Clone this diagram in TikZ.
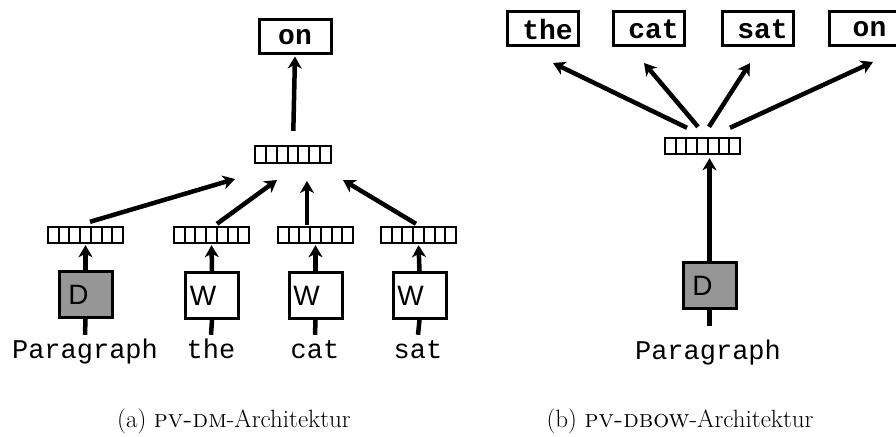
\documentclass[tikz,border=0pt]{standalone}
\usepackage{fontspec}
\setmonofont{Liberation Mono}
\setsansfont{Liberation Sans}
\usetikzlibrary{arrows.meta, calc}
\definecolor{boxgray}{RGB}{150,150,150}

\begin{document}
\begin{tikzpicture}[x=1pt, y=-1pt,
    word/.style={draw, line width=3pt, minimum width=72pt, minimum height=34pt,
                 inner sep=0pt, font=\fontsize{28}{28}\ttfamily\bfseries},
    outword/.style={word, minimum width=71pt,
                    execute at begin node={\hspace*{10pt}}},
    vec/.style={draw, line width=2.4pt, minimum width=75pt, minimum height=16pt,
                inner sep=0pt,
                path picture={\foreach \k in {1,...,6}
                  \draw[line width=2pt]
                    ($(path picture bounding box.north west)!\k/7!(path picture bounding box.north east)$) --
                    ($(path picture bounding box.south west)!\k/7!(path picture bounding box.south east)$);}},
    emb/.style={draw, line width=3pt, minimum width=53pt, minimum height=46pt,
                inner sep=0pt, font=\fontsize{28}{28}\sffamily},
    lbl/.style={font=\fontsize{27}{27}\ttfamily, anchor=base, text height=19pt,
                text depth=6pt, inner sep=4pt},
    capt/.style={font=\fontsize{25}{28}\selectfont},
    arr/.style={-{Stealth[length=12pt, width=14pt, inset=3.5pt]}, line width=4.5pt},
    stem/.style={line width=4.5pt}
  ]
  \useasboundingbox (0,0) rectangle (896,436);
  \clip (0,0) rectangle (896,436);

  % (a) PV-DM
  \node[word] (on1) at (295,37) {on};
  \node[vec, minimum width=76pt, minimum height=17pt] (h1) at (293,154.5) {};

  \node[vec] (vp)   at (85.5,235)  {};
  \node[vec] (vthe) at (211.5,235) {};
  \node[vec] (vcat) at (315.5,235) {};
  \node[vec] (vsat) at (418.5,235) {};

  \node[emb, fill=boxgray] (dp) at (85.5,294.5) {D\hspace*{14pt}};
  \node[emb] (wthe) at (212,295.5)   {W\hspace*{18pt}};
  \node[emb] (wcat) at (315.5,295.5) {W\hspace*{18pt}};
  \node[emb] (wsat) at (419.5,295.5) {W\hspace*{18pt}};

  \node[lbl] (lp)   at (85,358)  {Paragraph};
  \node[lbl] (lthe) at (211,358) {the};
  \node[lbl] (lcat) at (315,358) {cat};
  \node[lbl] (lsat) at (418,358) {sat};

  \coordinate (in1) at (235,179);
  \coordinate (in2) at (277,180);
  \coordinate (in3) at (307,181);
  \coordinate (in4) at (343,180);

  \draw[arr, shorten <=14pt, shorten >=1pt] (h1.north) -- (on1.south);
  \draw[arr] ([shift={(4.5,-4)}]vp.north)    -- (in1);
  \draw[arr] ([shift={(5.5,-2)}]vthe.north)  -- (in2);
  \draw[arr] ([shift={(-8.5,-1)}]vcat.north) -- (in3);
  \draw[arr] ([shift={(-2.5,-2)}]vsat.north) -- (in4);

  \foreach \b/\v/\l in {dp/vp/lp, wthe/vthe/lthe, wcat/vcat/lcat, wsat/vsat/lsat}{
    \draw[arr, shorten >=1pt] (\b.north) -- (\v.south);
    \draw[stem] (\b.south) -- (\l.north);
  }

  % (b) PV-DBOW
  \node[outword] (othe) at (542.5,29) {the};
  \node[outword] (ocat) at (648.5,29) {cat};
  \node[outword] (osat) at (757.5,29) {sat};
  \node[outword] (oon)  at (864.5,29) {on};

  \node[vec] (h2) at (702.5,146) {};
  \node[emb, fill=boxgray] (dr) at (709.5,285.5) {D\hspace*{14pt}};
  \node[lbl] (lr) at (708,359) {Paragraph};

  \coordinate (out1) at (553,63);
  \coordinate (out2) at (644,63);
  \coordinate (out3) at (750,63);
  \coordinate (out4) at (873,62);

  \draw[arr] ([shift={(-15.5,-9)}]h2.north) -- (out1);
  \draw[arr] ([shift={(-4.5,-10)}]h2.north) -- (out2);
  \draw[arr] ([shift={(6.5,-10)}]h2.north)  -- (out3);
  \draw[arr] ([shift={(27.5,-9)}]h2.north)  -- (out4);

  \draw[arr, shorten >=3pt] (dr.north) -- (dr.north |- h2.south);
  \draw[stem, shorten >=10pt] (dr.south) -- (dr.south |- lr.north);

  % captions
  \node[capt] (capa) at (234,421) {(a) \textsc{pv-dm}-Architektur};
  \node[capt] (capb) at (680,421) {(b) \textsc{pv-dbow}-Architektur};
\end{tikzpicture}
\end{document}
